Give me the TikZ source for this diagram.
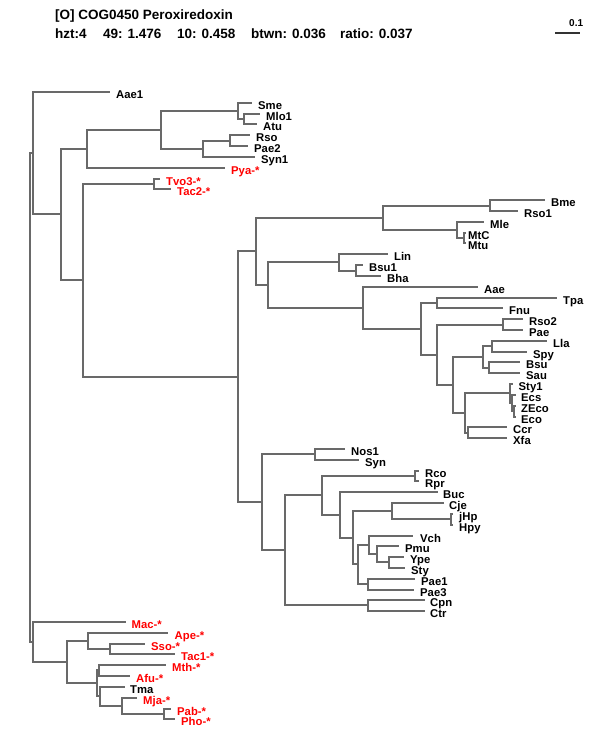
\documentclass[tikz,border=0pt]{standalone}
\usepackage{fontspec}
\setmainfont{Liberation Sans}
\definecolor{brgray}{RGB}{105,105,105}
\definecolor{lred}{RGB}{255,0,0}
\tikzset{
  br/.style={draw=brgray, line width=1.5pt, line cap=rect},
  lab/.style={anchor=base west, inner sep=0pt, font=\fontsize{11.3}{12}\selectfont\bfseries, text=black},
  redlab/.style={text=lred},
  hdr/.style={anchor=base west, inner sep=0pt, font=\fontsize{13.5}{15}\selectfont\bfseries},
}
\newcommand\lf[6]{\coordinate (e-#1) at (#3,#2); \node[lab,#5] (t-#1) at (#4,{#2+6}) {#1#6};}
\newcommand\kids[3]{\draw[br] (#1) |- (#2); \draw[br] (#1) |- (#3);}
\begin{document}
\begin{tikzpicture}[x=1pt,y=-1pt]
\useasboundingbox (0,0) rectangle (600,750);
% header
\node[hdr] (title) at (55,19) {[O] COG0450 Peroxiredoxin};
\node[hdr] (h1) at (55,38) {hzt:4};
\node[hdr] (h2) at (103,38) {49: 1.476};
\node[hdr] (h3) at (177,38) {10: 0.458};
\node[hdr] (h4) at (251,38) {btwn: 0.036};
\node[hdr] (h5) at (340,38) {ratio: 0.037};
\coordinate (sbL) at (555,33);
\coordinate (sbR) at (580,33);
\draw[draw=black!80, line width=1.2pt] (sbL) -- (sbR);
\node[lab, font=\fontsize{10}{11}\selectfont\bfseries] (sblab) at (569,26) {0.1};
% leaves
\lf{Aae1}{92}{109}{116}{}{}
\lf{Sme}{103}{251}{258}{}{}
\lf{Mlo1}{114}{259}{266}{}{}
\lf{Atu}{124}{256}{263}{}{}
\lf{Rso}{135}{249}{256}{}{}
\lf{Pae2}{146}{247}{254}{}{}
\lf{Syn1}{157}{254}{261}{}{}
\lf{Pya}{168}{224}{231}{redlab}{-*}
\lf{Tvo3}{179}{159}{166}{redlab}{-*}
\lf{Tac2}{189}{170}{177}{redlab}{-*}
\lf{Bme}{200}{544}{551}{}{}
\lf{Rso1}{211}{517}{524}{}{}
\lf{Mle}{222}{483}{490}{}{}
\lf{MtC}{233}{465}{468}{}{}
\lf{Mtu}{243}{465}{468}{}{}
\lf{Lin}{254}{387}{394}{}{}
\lf{Bsu1}{265}{362}{369}{}{}
\lf{Bha}{276}{380}{387}{}{}
\lf{Aae}{287}{477}{484}{}{}
\lf{Tpa}{298}{556}{563}{}{}
\lf{Fnu}{308}{502}{509}{}{}
\lf{Rso2}{319}{522}{529}{}{}
\lf{Pae}{330}{522}{529}{}{}
\lf{Lla}{341}{546}{553}{}{}
\lf{Spy}{352}{526}{533}{}{}
\lf{Bsu}{362}{519}{526}{}{}
\lf{Sau}{373}{519}{526}{}{}
\lf{Sty1}{384}{512}{518.5}{}{}
\lf{Ecs}{395}{515}{521}{}{}
\lf{ZEco}{406}{515}{521}{}{}
\lf{Eco}{417}{515}{521}{}{}
\lf{Ccr}{427}{506}{513}{}{}
\lf{Xfa}{438}{506}{513}{}{}
\lf{Nos1}{449}{344}{351}{}{}
\lf{Syn}{460}{358}{365}{}{}
\lf{Rco}{471}{418}{425}{}{}
\lf{Rpr}{481}{418}{425}{}{}
\lf{Buc}{492}{437}{443}{}{}
\lf{Cje}{503}{443}{449}{}{}
\lf{jHp}{514}{452}{459}{}{}
\lf{Hpy}{525}{452}{459}{}{}
\lf{Vch}{536}{412}{420}{}{}
\lf{Pmu}{546}{398}{405}{}{}
\lf{Ype}{557}{403}{410}{}{}
\lf{Sty}{568}{404}{411}{}{}
\lf{Pae1}{579}{414}{421}{}{}
\lf{Pae3}{590}{413}{420}{}{}
\lf{Cpn}{600}{424}{430}{}{}
\lf{Ctr}{611}{424}{430}{}{}
\lf{Mac}{622}{125}{131.5}{redlab}{-*}
\lf{Ape}{633}{167}{174.5}{redlab}{-*}
\lf{Sso}{644}{144}{151}{redlab}{-*}
\lf{Tac1}{654}{174}{181}{redlab}{-*}
\lf{Mth}{665}{165}{172}{redlab}{-*}
\lf{Afu}{676}{129}{136}{redlab}{-*}
\lf{Tma}{687}{124}{130}{}{}
\lf{Mja}{698}{136}{143}{redlab}{-*}
\lf{Pab}{709}{170}{177}{redlab}{-*}
\lf{Pho}{719}{174}{181}{redlab}{-*}
% internal nodes
\coordinate (root) at (30,397);
\coordinate (nTop) at (33,153);
\coordinate (nBot) at (33,642);
\coordinate (n60) at (61,214);
\coordinate (nPya) at (87,149);
\coordinate (nAlpha) at (161,130);
\coordinate (nSMA) at (238,111);
\coordinate (nSA) at (244,119);
\coordinate (nRPS) at (203,149);
\coordinate (nRP) at (230,141);
\coordinate (n82) at (83,280);
\coordinate (nTvT) at (154,184);
\coordinate (nX) at (238,377);
\coordinate (n256) at (256,251);
\coordinate (nBRM) at (383,218);
\coordinate (nBR) at (490,206);
\coordinate (nMle) at (457,230);
\coordinate (nMM) at (464,238);
\coordinate (n267) at (268,285);
\coordinate (nLin) at (339,262);
\coordinate (nBB) at (356,271);
\coordinate (nAae) at (363,308);
\coordinate (n421) at (421,329);
\coordinate (nTF) at (437,303);
\coordinate (N1) at (437,355);
\coordinate (nRP2) at (503,325);
\coordinate (nLS2) at (453,385);
\coordinate (nLSBS) at (483,357);
\coordinate (nLS) at (492,346);
\coordinate (nBS) at (489,368);
\coordinate (nS) at (465,413);
\coordinate (nSty1) at (510,393);
\coordinate (nEcs) at (512,403);
\coordinate (nZE) at (514,411);
\coordinate (nCX) at (468,433);
\coordinate (n261) at (262,502);
\coordinate (nNS) at (315,454);
\coordinate (n285) at (285,550);
\coordinate (nRB) at (322,495);
\coordinate (nRR) at (415,476);
\coordinate (nBuc) at (340,515);
\coordinate (nCV) at (353,538);
\coordinate (nCje) at (392,511);
\coordinate (nJH) at (451,519);
\coordinate (nVP) at (358,564);
\coordinate (nVch) at (369,545);
\coordinate (nPmu) at (377,554);
\coordinate (nYS) at (389,562);
\coordinate (nPP) at (368,584);
\coordinate (nCC) at (368,605);
\coordinate (n66) at (67,662);
\coordinate (nApe) at (88,641);
\coordinate (nST) at (110,649);
\coordinate (nA) at (97,683);
\coordinate (nMA) at (99,670);
\coordinate (nTma) at (100,696);
\coordinate (nMja) at (122,706);
\coordinate (nPP2) at (164,714);
% branches
\kids{root}{nTop}{nBot}
\kids{nTop}{e-Aae1}{n60}
\kids{n60}{nPya}{n82}
\kids{nPya}{nAlpha}{e-Pya}
\kids{nAlpha}{nSMA}{nRPS}
\kids{nSMA}{e-Sme}{nSA}
\kids{nSA}{e-Mlo1}{e-Atu}
\kids{nRPS}{nRP}{e-Syn1}
\kids{nRP}{e-Rso}{e-Pae2}
\kids{n82}{nTvT}{nX}
\kids{nTvT}{e-Tvo3}{e-Tac2}
\kids{nX}{n256}{n261}
\kids{n256}{nBRM}{n267}
\kids{nBRM}{nBR}{nMle}
\kids{nBR}{e-Bme}{e-Rso1}
\kids{nMle}{e-Mle}{nMM}
\kids{nMM}{e-MtC}{e-Mtu}
\kids{n267}{nLin}{nAae}
\kids{nLin}{e-Lin}{nBB}
\kids{nBB}{e-Bsu1}{e-Bha}
\kids{nAae}{e-Aae}{n421}
\kids{n421}{nTF}{N1}
\kids{nTF}{e-Tpa}{e-Fnu}
\kids{N1}{nRP2}{nLS2}
\kids{nRP2}{e-Rso2}{e-Pae}
\kids{nLS2}{nLSBS}{nS}
\kids{nLSBS}{nLS}{nBS}
\kids{nLS}{e-Lla}{e-Spy}
\kids{nBS}{e-Bsu}{e-Sau}
\kids{nS}{nSty1}{nCX}
\kids{nSty1}{e-Sty1}{nEcs}
\kids{nEcs}{e-Ecs}{nZE}
\kids{nZE}{e-ZEco}{e-Eco}
\kids{nCX}{e-Ccr}{e-Xfa}
\kids{n261}{nNS}{n285}
\kids{nNS}{e-Nos1}{e-Syn}
\kids{n285}{nRB}{nCC}
\kids{nRB}{nRR}{nBuc}
\kids{nRR}{e-Rco}{e-Rpr}
\kids{nBuc}{e-Buc}{nCV}
\kids{nCV}{nCje}{nVP}
\kids{nCje}{e-Cje}{nJH}
\kids{nJH}{e-jHp}{e-Hpy}
\kids{nVP}{nVch}{nPP}
\kids{nVch}{e-Vch}{nPmu}
\kids{nPmu}{e-Pmu}{nYS}
\kids{nYS}{e-Ype}{e-Sty}
\kids{nPP}{e-Pae1}{e-Pae3}
\kids{nCC}{e-Cpn}{e-Ctr}
\kids{nBot}{e-Mac}{n66}
\kids{n66}{nApe}{nA}
\kids{nApe}{e-Ape}{nST}
\kids{nST}{e-Sso}{e-Tac1}
\kids{nA}{nMA}{nTma}
\kids{nMA}{e-Mth}{e-Afu}
\kids{nTma}{e-Tma}{nMja}
\kids{nMja}{e-Mja}{nPP2}
\kids{nPP2}{e-Pab}{e-Pho}
\end{tikzpicture}
\end{document}
